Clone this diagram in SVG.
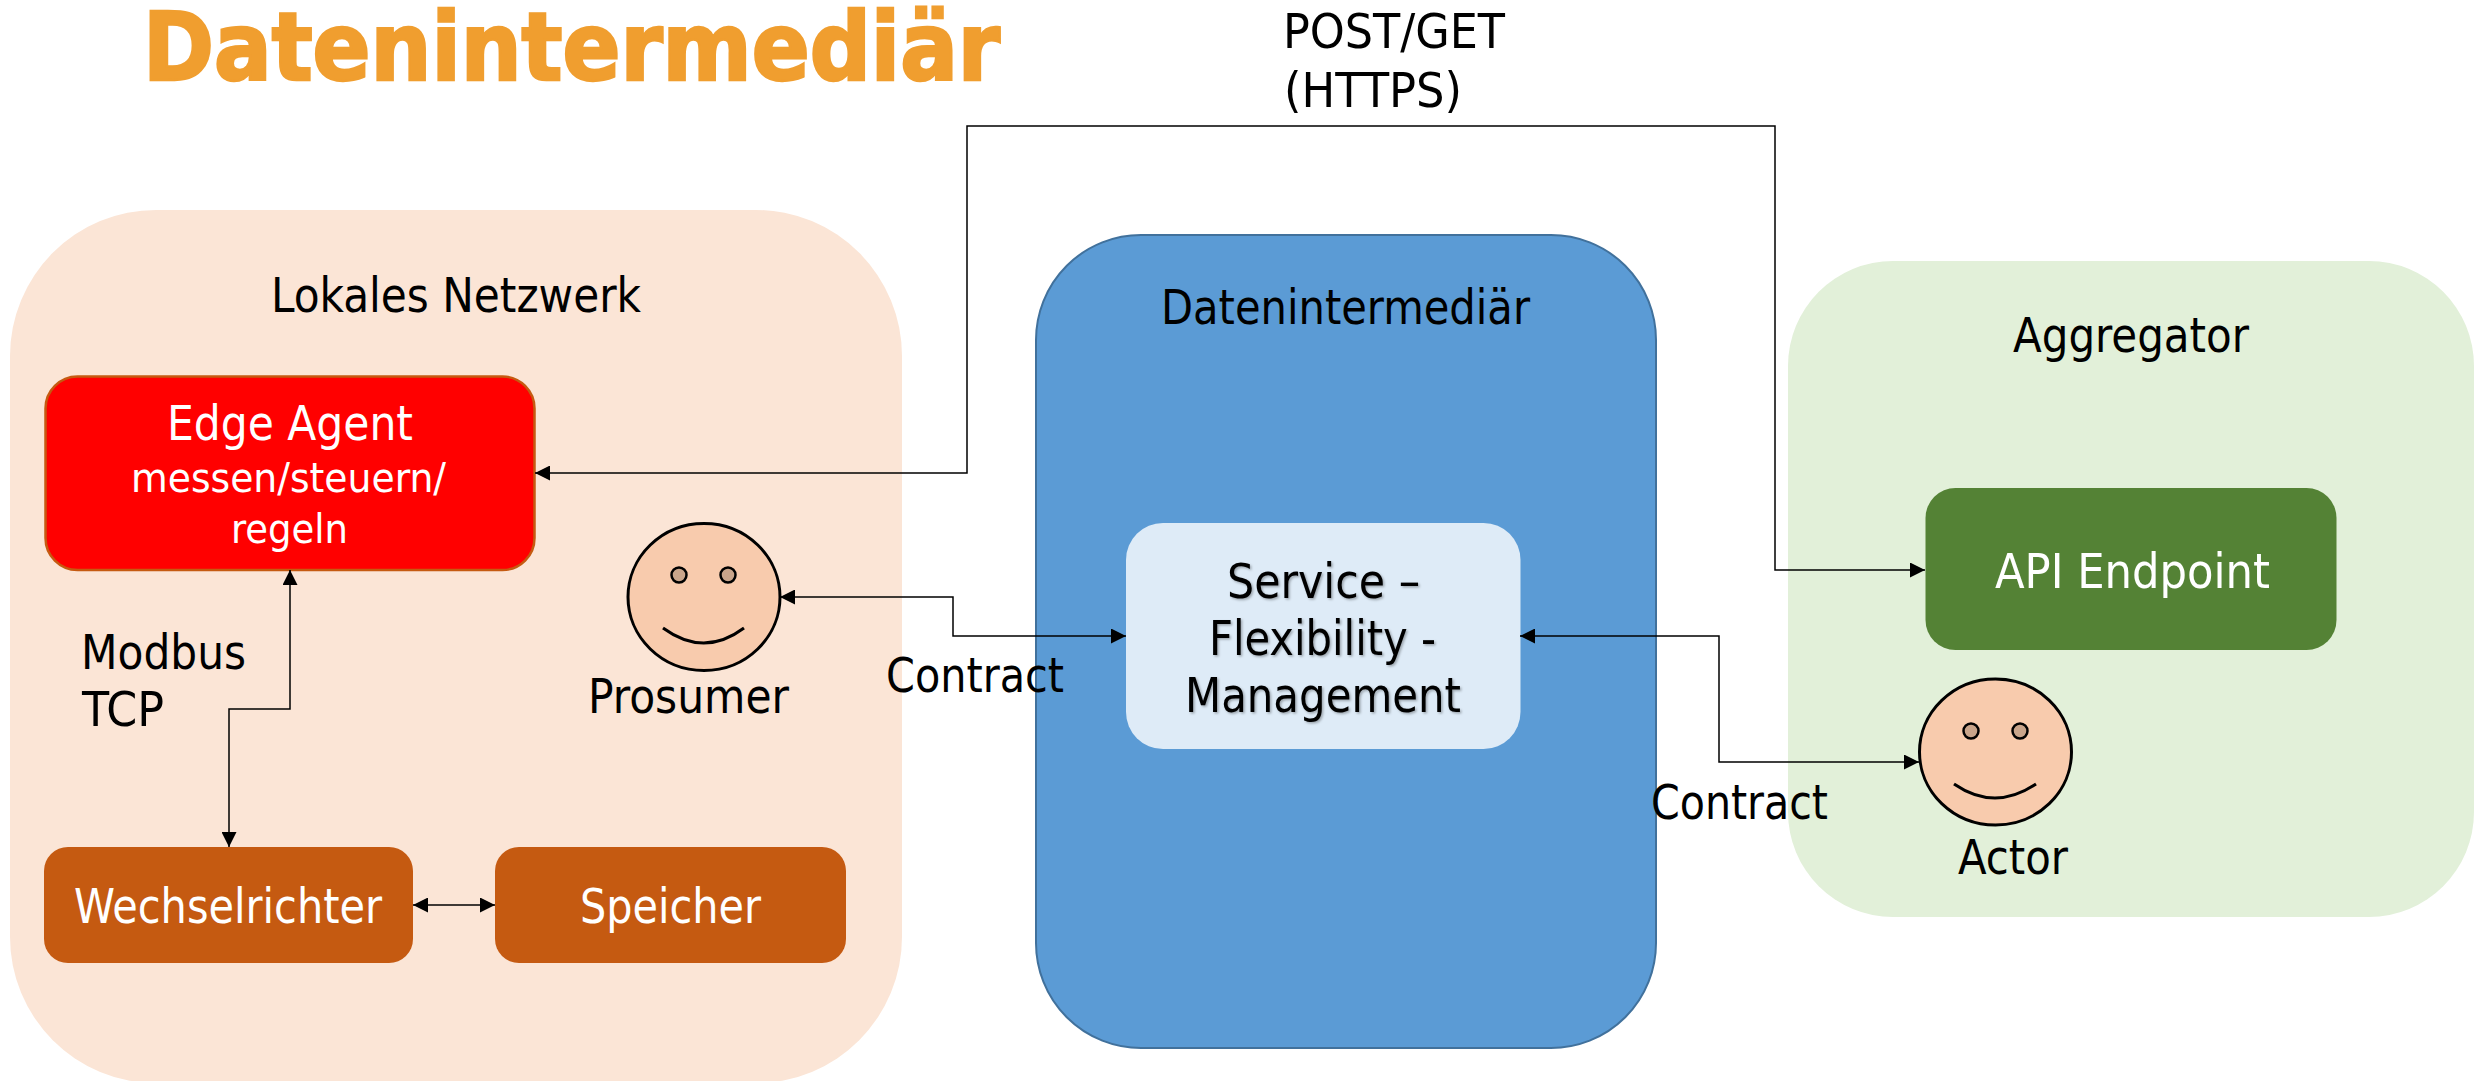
<svg xmlns="http://www.w3.org/2000/svg" width="2478" height="1081" viewBox="0 0 2478 1081">
<style>
text{font-family:"DejaVu Sans Condensed","DejaVu Sans",sans-serif;font-size:48px;fill:#000}
.w{fill:#fff}
.s{font-size:41px}
.t{font-size:94px;font-weight:bold;fill:#F09E2F;stroke:#F09E2F;stroke-width:2.500}
.sh{filter:url(#shadow)}
.c{fill:none;stroke:#000;stroke-width:1.500;marker-start:url(#a);marker-end:url(#a)}
.face{fill:#F8CBAD;stroke:#000;stroke-width:3}
.eye{fill:#C9A58B;stroke:#000;stroke-width:2.500}
.smile{fill:none;stroke:#000;stroke-width:3}
.br{fill:#C55A11}
</style>
<defs>
<marker id="a" viewBox="0 0 15 15" refX="15" refY="7.5" markerWidth="15" markerHeight="15" markerUnits="userSpaceOnUse" orient="auto-start-reverse"><path d="M0 0L15 7.5L0 15Z" fill="#000"/></marker>
<filter id="shadow" x="-10%" y="-20%" width="120%" height="140%"><feDropShadow dx="1.500" dy="1.500" stdDeviation="1" flood-color="#000" flood-opacity="0.3"/></filter>
</defs>
<rect width="2478" height="1081" fill="#fff"/>
<text class="t" x="143" y="80" textLength="857" lengthAdjust="spacingAndGlyphs">Datenintermediär</text>
<g id="lokales-netzwerk"><rect x="10" y="210" width="892" height="873" rx="146" fill="#FBE5D6"/><text x="271" y="312" textLength="370" lengthAdjust="spacingAndGlyphs">Lokales Netzwerk</text></g>
<g id="datenintermediaer"><rect x="1036" y="235" width="620" height="813" rx="105" fill="#5B9BD5" stroke="#41719C" stroke-width="2"/><text x="1161" y="324" textLength="369" lengthAdjust="spacingAndGlyphs">Datenintermediär</text></g>
<g id="aggregator"><rect x="1788" y="261" width="686" height="656" rx="105" fill="#E2F0D9"/><text x="2013" y="352" textLength="236" lengthAdjust="spacingAndGlyphs">Aggregator</text></g>
<g id="edge-agent"><rect x="45.500" y="376.500" width="489" height="193.500" rx="32" fill="#FF0000" stroke="#C55A11" stroke-width="2.500"/><text class="w" x="167" y="440" textLength="246" lengthAdjust="spacingAndGlyphs">Edge Agent</text><text class="w s" x="131" y="492" textLength="315" lengthAdjust="spacingAndGlyphs">messen/steuern/</text><text class="w s" x="231" y="543" textLength="117" lengthAdjust="spacingAndGlyphs">regeln</text></g>
<g id="wechselrichter"><rect class="br" x="44" y="847" width="369" height="116" rx="24"/><text class="w" x="74" y="923" textLength="308" lengthAdjust="spacingAndGlyphs">Wechselrichter</text></g>
<g id="speicher"><rect class="br" x="495" y="847" width="351" height="116" rx="24"/><text class="w" x="580" y="923" textLength="181" lengthAdjust="spacingAndGlyphs">Speicher</text></g>
<g id="service"><rect x="1126" y="523" width="394.500" height="226" rx="37" fill="#DEEBF7"/><text class="sh" x="1227" y="598" textLength="193" lengthAdjust="spacingAndGlyphs">Service –</text><text class="sh" x="1209" y="655" textLength="227" lengthAdjust="spacingAndGlyphs">Flexibility -</text><text class="sh" x="1185" y="712" textLength="276" lengthAdjust="spacingAndGlyphs">Management</text></g>
<g id="api-endpoint"><rect x="1925.500" y="488" width="411" height="162" rx="30" fill="#548235"/><text class="w" x="1995" y="588" textLength="275" lengthAdjust="spacingAndGlyphs">API Endpoint</text></g>
<g id="prosumer"><ellipse class="face" cx="704" cy="597" rx="76" ry="73.500"/><ellipse class="eye" cx="679" cy="575" rx="7.500" ry="7.500"/><ellipse class="eye" cx="728" cy="575" rx="7.500" ry="7.500"/><path class="smile" d="M663 628Q704 658 744 628"/><text x="588" y="713" textLength="201" lengthAdjust="spacingAndGlyphs">Prosumer</text></g>
<g id="actor"><ellipse class="face" cx="1995.500" cy="752" rx="76" ry="73"/><ellipse class="eye" cx="1971" cy="731" rx="7.500" ry="7.500"/><ellipse class="eye" cx="2020" cy="731" rx="7.500" ry="7.500"/><path class="smile" d="M1954 784Q1995 812 2036 784"/><text x="1958" y="874" textLength="110" lengthAdjust="spacingAndGlyphs">Actor</text></g>
<g id="connectors">
<path class="c" d="M535 473H967V126H1775V570H1925"/>
<path class="c" d="M290 570V709H229V847"/>
<path class="c" d="M413 905H495"/>
<path class="c" d="M780 597H953V636H1126"/>
<path class="c" d="M1520 636H1719V762H1919"/>
</g>
<text x="81" y="669" textLength="165" lengthAdjust="spacingAndGlyphs">Modbus</text>
<text x="82" y="726" textLength="82" lengthAdjust="spacingAndGlyphs">TCP</text>
<text x="886" y="692" textLength="178" lengthAdjust="spacingAndGlyphs">Contract</text>
<text x="1651" y="819" textLength="177" lengthAdjust="spacingAndGlyphs">Contract</text>
<text x="1283" y="48" textLength="222" lengthAdjust="spacingAndGlyphs">POST/GET</text>
<text x="1284" y="107" textLength="178" lengthAdjust="spacingAndGlyphs">(HTTPS)</text>
</svg>
